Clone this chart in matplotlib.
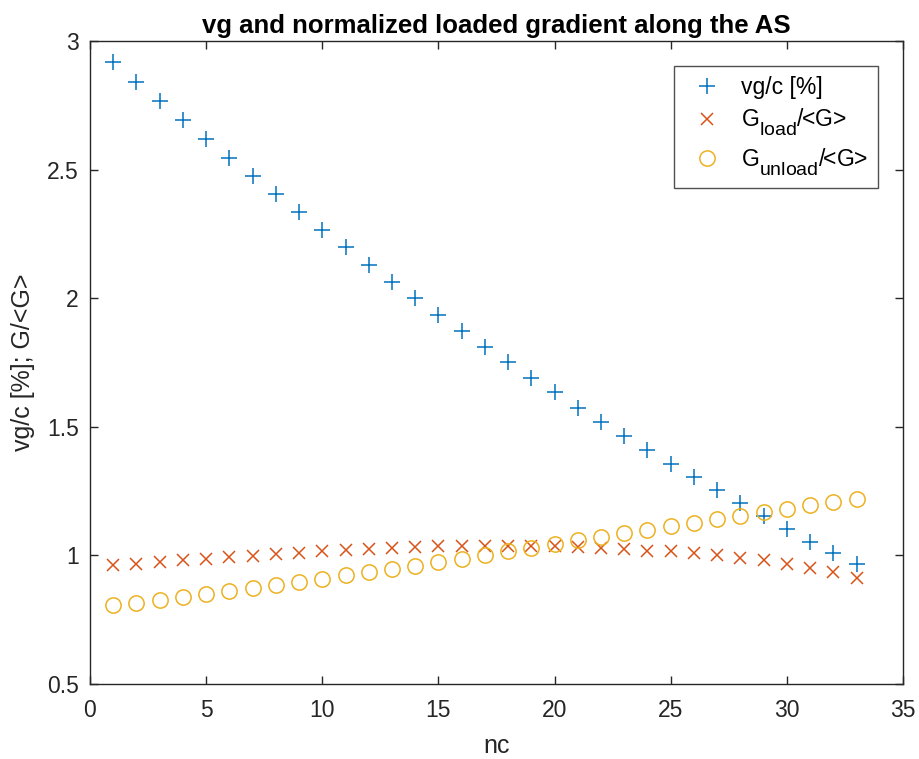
import numpy as np
import matplotlib
matplotlib.use("Agg")
import matplotlib.pyplot as plt

# larger, lower subscripts, closer to the MATLAB look
try:
    import matplotlib._mathtext as _mt
    _mt.SHRINK_FACTOR = 0.85
    _mt.FontConstantsBase.sub1 = 0.7
except Exception:
    pass

plt.rcParams['font.family'] = ['Liberation Sans', 'DejaVu Sans']
plt.rcParams['mathtext.fontset'] = 'custom'
plt.rcParams['mathtext.rm'] = 'Liberation Sans'
plt.rcParams['mathtext.it'] = 'Liberation Sans'

# Data
nc = np.arange(1, 34)
vg_c = [2.920, 2.842, 2.767, 2.692, 2.618, 2.546, 2.474, 2.404, 2.334, 2.264,
        2.198, 2.130, 2.064, 2.000, 1.936, 1.873, 1.811, 1.753, 1.691, 1.634,
        1.575, 1.520, 1.464, 1.410, 1.355, 1.304, 1.253, 1.202, 1.153, 1.101,
        1.054, 1.009, 0.965]
g_load = [0.961, 0.968, 0.974, 0.981, 0.986, 0.994, 0.999, 1.004, 1.010, 1.016,
          1.020, 1.024, 1.028, 1.032, 1.035, 1.036, 1.037, 1.037, 1.036, 1.035,
          1.032, 1.028, 1.024, 1.019, 1.016, 1.009, 1.000, 0.990, 0.981, 0.968,
          0.951, 0.934, 0.914]
g_unload = [0.807, 0.816, 0.826, 0.838, 0.848, 0.860, 0.872, 0.884, 0.895, 0.909,
            0.922, 0.934, 0.947, 0.960, 0.974, 0.987, 1.002, 1.016, 1.030, 1.044,
            1.059, 1.072, 1.086, 1.099, 1.113, 1.127, 1.140, 1.154, 1.169, 1.182,
            1.195, 1.208, 1.220]

fig = plt.figure(figsize=(9.2, 7.59), dpi=100)
ax = fig.add_axes([90/920, 1-684/759, (903-90)/920, (684-41)/759])

ax.plot(nc, vg_c, '+', color='#0072BD', ms=11, mew=1.1, label='vg/c [%]')
ax.plot(nc, g_load, 'x', color='#D95319', ms=8, mew=1.1, label=r'G$_{\mathrm{load}}$/<G>')
ax.plot(nc, g_unload, 'o', color='#EDB120', mfc='none', ms=11, mew=1.1,
        label=r'G$_{\mathrm{unload}}$/<G>')

ax.set_xlim(0, 35)
ax.set_ylim(0.5, 3)
ax.set_xticks(np.arange(0, 36, 5))
ax.set_yticks([0.5, 1, 1.5, 2, 2.5, 3])
ax.set_yticklabels(['0.5', '1', '1.5', '2', '2.5', '3'])

for s in ax.spines.values():
    s.set_color('#262626')
    s.set_linewidth(1.0)
ax.tick_params(direction='in', top=True, right=True, length=6, width=1.0,
               colors='#262626', labelsize=16.5)
ax.tick_params(axis='x', pad=11)
ax.tick_params(axis='y', pad=8)

ax.set_xlabel('nc', fontsize=18, color='#262626')
ax.set_ylabel('vg/c [%]; G/<G>', fontsize=18, color='#262626')
ax.xaxis.set_label_coords(0.5, -0.078)
ax.yaxis.set_label_coords(-0.068, 0.5)
ax.set_title('vg and normalized loaded gradient along the AS', fontsize=18.5,
             fontweight='bold', color='black', pad=6)

leg = ax.legend(loc='upper right', fontsize=16.5, frameon=True,
                fancybox=False, edgecolor='#262626', borderpad=0.45,
                labelspacing=0.35, handlelength=2.0, handletextpad=0.45,
                borderaxespad=0)
leg.set_bbox_to_anchor((878/920, 1-66/759), transform=fig.transFigure)
leg.get_frame().set_linewidth(1.0)

fig.savefig('out.png', dpi=100)
